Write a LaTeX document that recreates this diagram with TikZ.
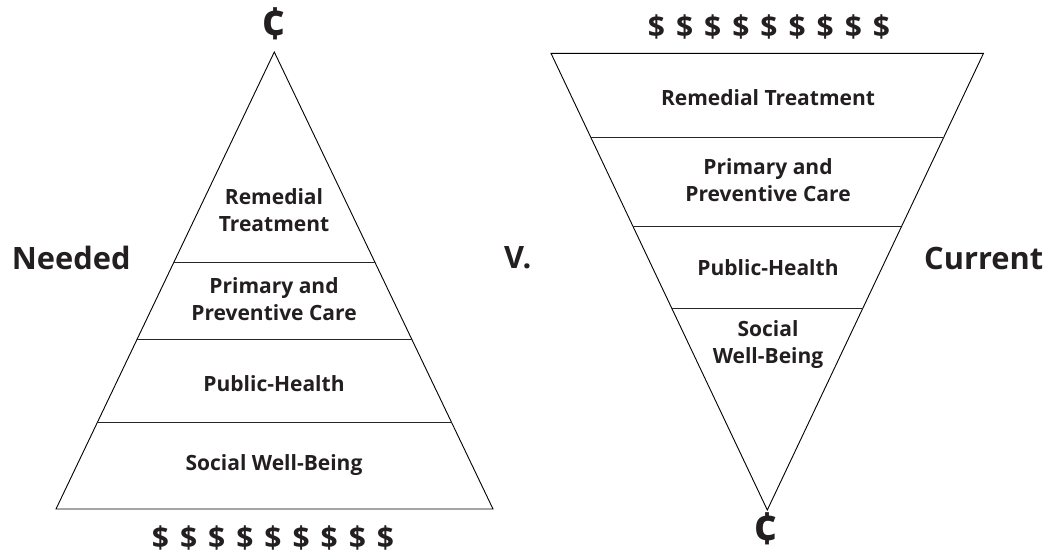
\documentclass[tikz,border=0pt]{standalone}
\usepackage{fontspec}
\setmainfont{Open Sans}
\usetikzlibrary{calc}
\definecolor{ink}{HTML}{231F20}
\newcommand\dgap{\hspace{11pt}}
\newcommand\dollarrow{\$\dgap\$\dgap\$\dgap\$\dgap\$\dgap\$\dgap\$\dgap\$\dgap\$}
\tikzset{
  tier/.style={font=\bfseries\fontsize{21}{27}\selectfont, text=ink, align=center, inner sep=0pt},
  side/.style={font=\bfseries\fontsize{30.8}{36}\selectfont, text=ink, inner sep=0pt},
  money/.style={font=\bfseries\fontsize{30}{34}\selectfont, text=ink, inner sep=0pt},
  cent/.style={font=\bfseries\fontsize{44}{48}\selectfont, text=ink, inner sep=0pt, text depth=0pt},
  outline/.style={draw=black, line width=0.9pt, line join=miter},
  divider/.style={draw=black!85, line width=0.9pt}
}
\begin{document}
\begin{tikzpicture}[x=1pt,y=-1pt]
\useasboundingbox (0,0) rectangle (1046,555);

% ---- upright pyramid ----
\coordinate (A)  at (274.3,52);
\coordinate (BL) at (56,509);
\coordinate (BR) at (493,509);
\path[outline] (A) -- (BL) -- (BR) -- cycle;
\foreach \t/\n in {0.461/l1,0.630/l2,0.811/l3}{
  \draw[divider] ($(A)!\t!(BL)$) coordinate (\n a) -- ($(A)!\t!(BR)$) coordinate (\n b);
}
\node[tier] (lrem) at (274,210) {Remedial\\Treatment};
\node[tier] (lpri) at (274,299.5) {Primary and\\Preventive Care};
\node[tier] (lpub) at (274,384) {Public-Health};
\node[tier] (lsoc) at (274,464.7) {Social Well-Being};
\node[cent, anchor=base] (lcent) at (274,39.5) {¢};
\node[money] (ldol) at (273,538) {\dollarrow};

% ---- inverted pyramid ----
\coordinate (B)  at (767.3,510);
\coordinate (TL) at (551,53.3);
\coordinate (TR) at (983.5,53.3);
\path[outline] (B) -- (TL) -- (TR) -- cycle;
\foreach \t/\n in {0.815/r1,0.620/r2,0.442/r3}{
  \draw[divider] ($(B)!\t!(TL)$) coordinate (\n a) -- ($(B)!\t!(TR)$) coordinate (\n b);
}
\node[tier] (rrem) at (768,97.5) {Remedial Treatment};
\node[tier] (rpri) at (768,180) {Primary and\\Preventive Care};
\node[tier] (rpub) at (768,268) {Public-Health};
\node[tier] (rsoc) at (768,344.8) {Social\\Well-Being};
\node[cent, anchor=base] (rcent) at (766,544.5) {¢};
\node[money] (rdol) at (769,26.7) {\dollarrow};

% ---- side captions ----
\node[side, anchor=west] (needed) at (11.7,258) {Needed};
\node[side, anchor=west] (vs) at (504,258) {V.};
\node[side, anchor=west] (current) at (924,258) {Current};
\end{tikzpicture}
\end{document}
